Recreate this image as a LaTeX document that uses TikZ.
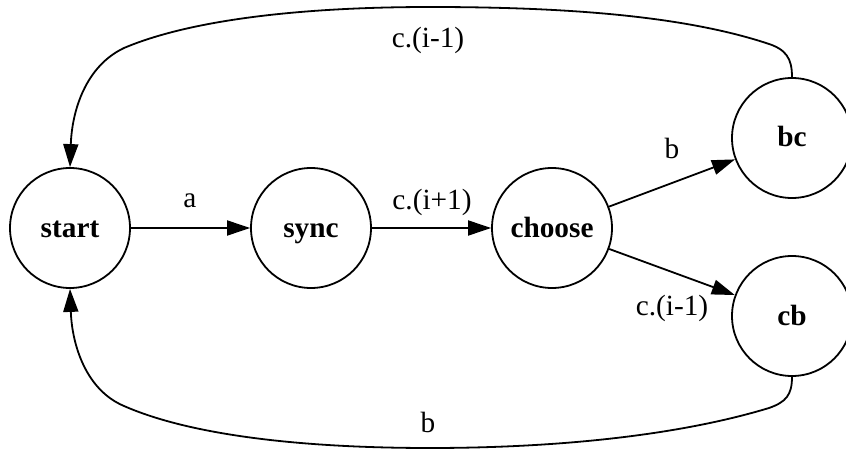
\documentclass[tikz,border=0pt]{standalone}
\usepackage{fontspec}
\setmainfont{Liberation Serif}
\usetikzlibrary{arrows.meta}
\begin{document}
\begin{tikzpicture}[x=1pt,y=-1pt]
            \tikzset{
                state/.style={draw, circle, line width=1.8pt, minimum size=120pt, inner sep=0pt, text height=22pt, text depth=4pt, font=\fontsize{29.3}{33}\selectfont\bfseries},
                lbl/.style={font=\fontsize{29.3}{33}\selectfont, inner sep=0pt},
                arc/.style={line width=1.8pt, -{Triangle[length=23pt,width=15pt]}}
            }
            \useasboundingbox (0,0) rectangle (846,449);

            \draw node[state] (start) at (70,228) {start};
            \draw node[state] (sync) at (311,228) {sync};
            \draw node[state] (choose) at (552,228) {choose};
            \draw node[state] (bc) at (792,138) {bc};
            \draw node[state] (cb) at (792,316) {cb};

            \foreach \x/\y in {%
                start/sync, sync/choose, choose/bc, choose/cb%
            }{
            \draw (\x) edge[arc] (\y);
            }
            % back edges
            \draw[arc] (bc.north) .. controls (792,58) and (786,49) .. (766,43)
                .. controls (680,15) and (560,7) .. (430,7)
                .. controls (300,7) and (190,20) .. (124,48)
                .. controls (86,66) and (72,110) .. (start.north);
            \draw[arc] (cb.south) .. controls (792,395) and (786,402) .. (769,408)
                .. controls (680,435) and (560,448) .. (430,448)
                .. controls (300,448) and (190,435) .. (124,406)
                .. controls (86,390) and (72,345) .. (start.south);

            \node[lbl] (la) at (190,201) {a};
            \node[lbl] (lsc) at (432,202) {c.(i+1)};
            \node[lbl] (lcb) at (672,148) {b};
            \node[lbl] (lcc) at (672,308) {c.(i-1)};
            \node[lbl] (lbs) at (428,40) {c.(i-1)};
            \node[lbl] (lcs) at (428,422) {b};
        \end{tikzpicture}
\end{document}
